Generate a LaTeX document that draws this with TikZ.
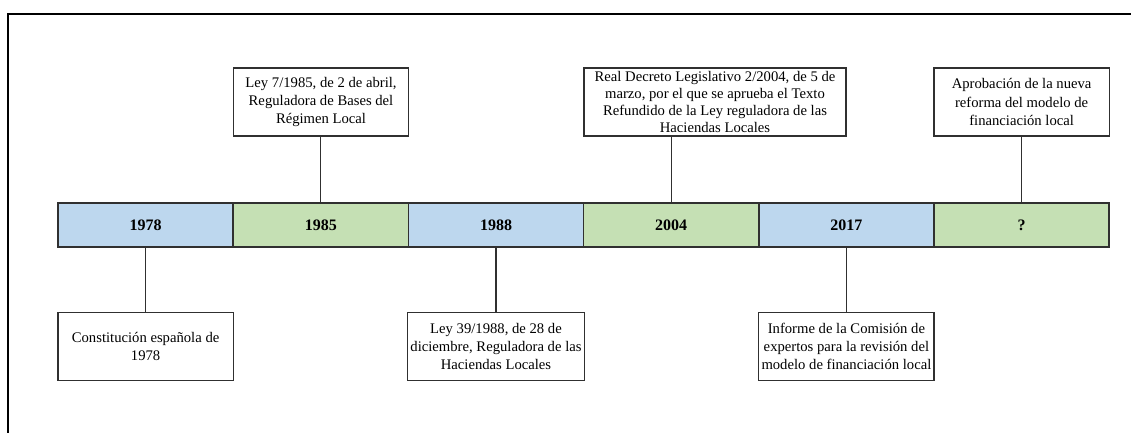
\documentclass[tikz,border=0pt]{standalone}
\usepackage{fontspec}
\setmainfont{Liberation Serif}
\usetikzlibrary{positioning}
\definecolor{barblue}{HTML}{BDD7EE}
\definecolor{bargreen}{HTML}{C5E0B4}
\definecolor{edgegray}{HTML}{303030}
\tikzset{yearbox/.style={draw=edgegray, line width=1.2pt, minimum width=131.4pt, minimum height=33pt, inner sep=0pt, font=\fontsize{12}{14}\selectfont\bfseries},
notebox/.style={draw=edgegray, line width=1pt, fill=white, align=center, minimum width=131.4pt, minimum height=51pt, inner sep=2pt, font=\fontsize{11}{13.6}\selectfont},
stem/.style={draw=edgegray, line width=1pt}}

\begin{document}
\begin{tikzpicture}[x=0.75pt, y=-0.75pt]
\useasboundingbox (0,0) rectangle (1131,432);
%frame
\draw[line width=1.5pt] (8,440) -- (8,14) -- (1140,14);

%years
\foreach \yr/\col [count=\i from 0] in {1978/barblue, 1985/bargreen, 1988/barblue, 2004/bargreen, 2017/barblue, ?/bargreen}
  {\node[yearbox, fill=\col] (y\i) at (145.6+175.2*\i, 225) {\yr};}

%above
\node[notebox] (n1985) at (321, 102) {Ley 7/1985, de 2 de abril,\\ Reguladora de Bases del\\ Régimen Local};
\node[notebox, minimum width=196.5pt, font=\fontsize{11}{12.9}\selectfont] (n2004) at (715, 102) {Real Decreto Legislativo 2/2004, de 5 de\\ marzo, por el que se aprueba el Texto\\ Refundido de la Ley reguladora de las\\ Haciendas Locales};
\node[notebox] (nnew) at (1021.6, 102) {Aprobación de la nueva\\ reforma del modelo de\\ financiación local};

%below
\node[notebox] (n1978) at (145.6, 346.5) {Constitución española de\\ 1978};
\node[notebox] (n1988) at (496, 346.5) {Ley 39/1988, de 28 de\\ diciembre, Reguladora de las\\ Haciendas Locales};
\node[notebox] (n2017) at (846.4, 346.5) {Informe de la Comisión de\\ expertos para la revisión del\\ modelo de financiación local};

\draw[stem] (y1.north) -- (y1.north |- n1985.south);
\draw[stem] (y3.north) -- (y3.north |- n2004.south);
\draw[stem] (y5.north) -- (y5.north |- nnew.south);
\draw[stem] (y0.south) -- (y0.south |- n1978.north);
\draw[stem] (y2.south) -- (y2.south |- n1988.north);
\draw[stem] (y4.south) -- (y4.south |- n2017.north);

\end{tikzpicture}
\end{document}
